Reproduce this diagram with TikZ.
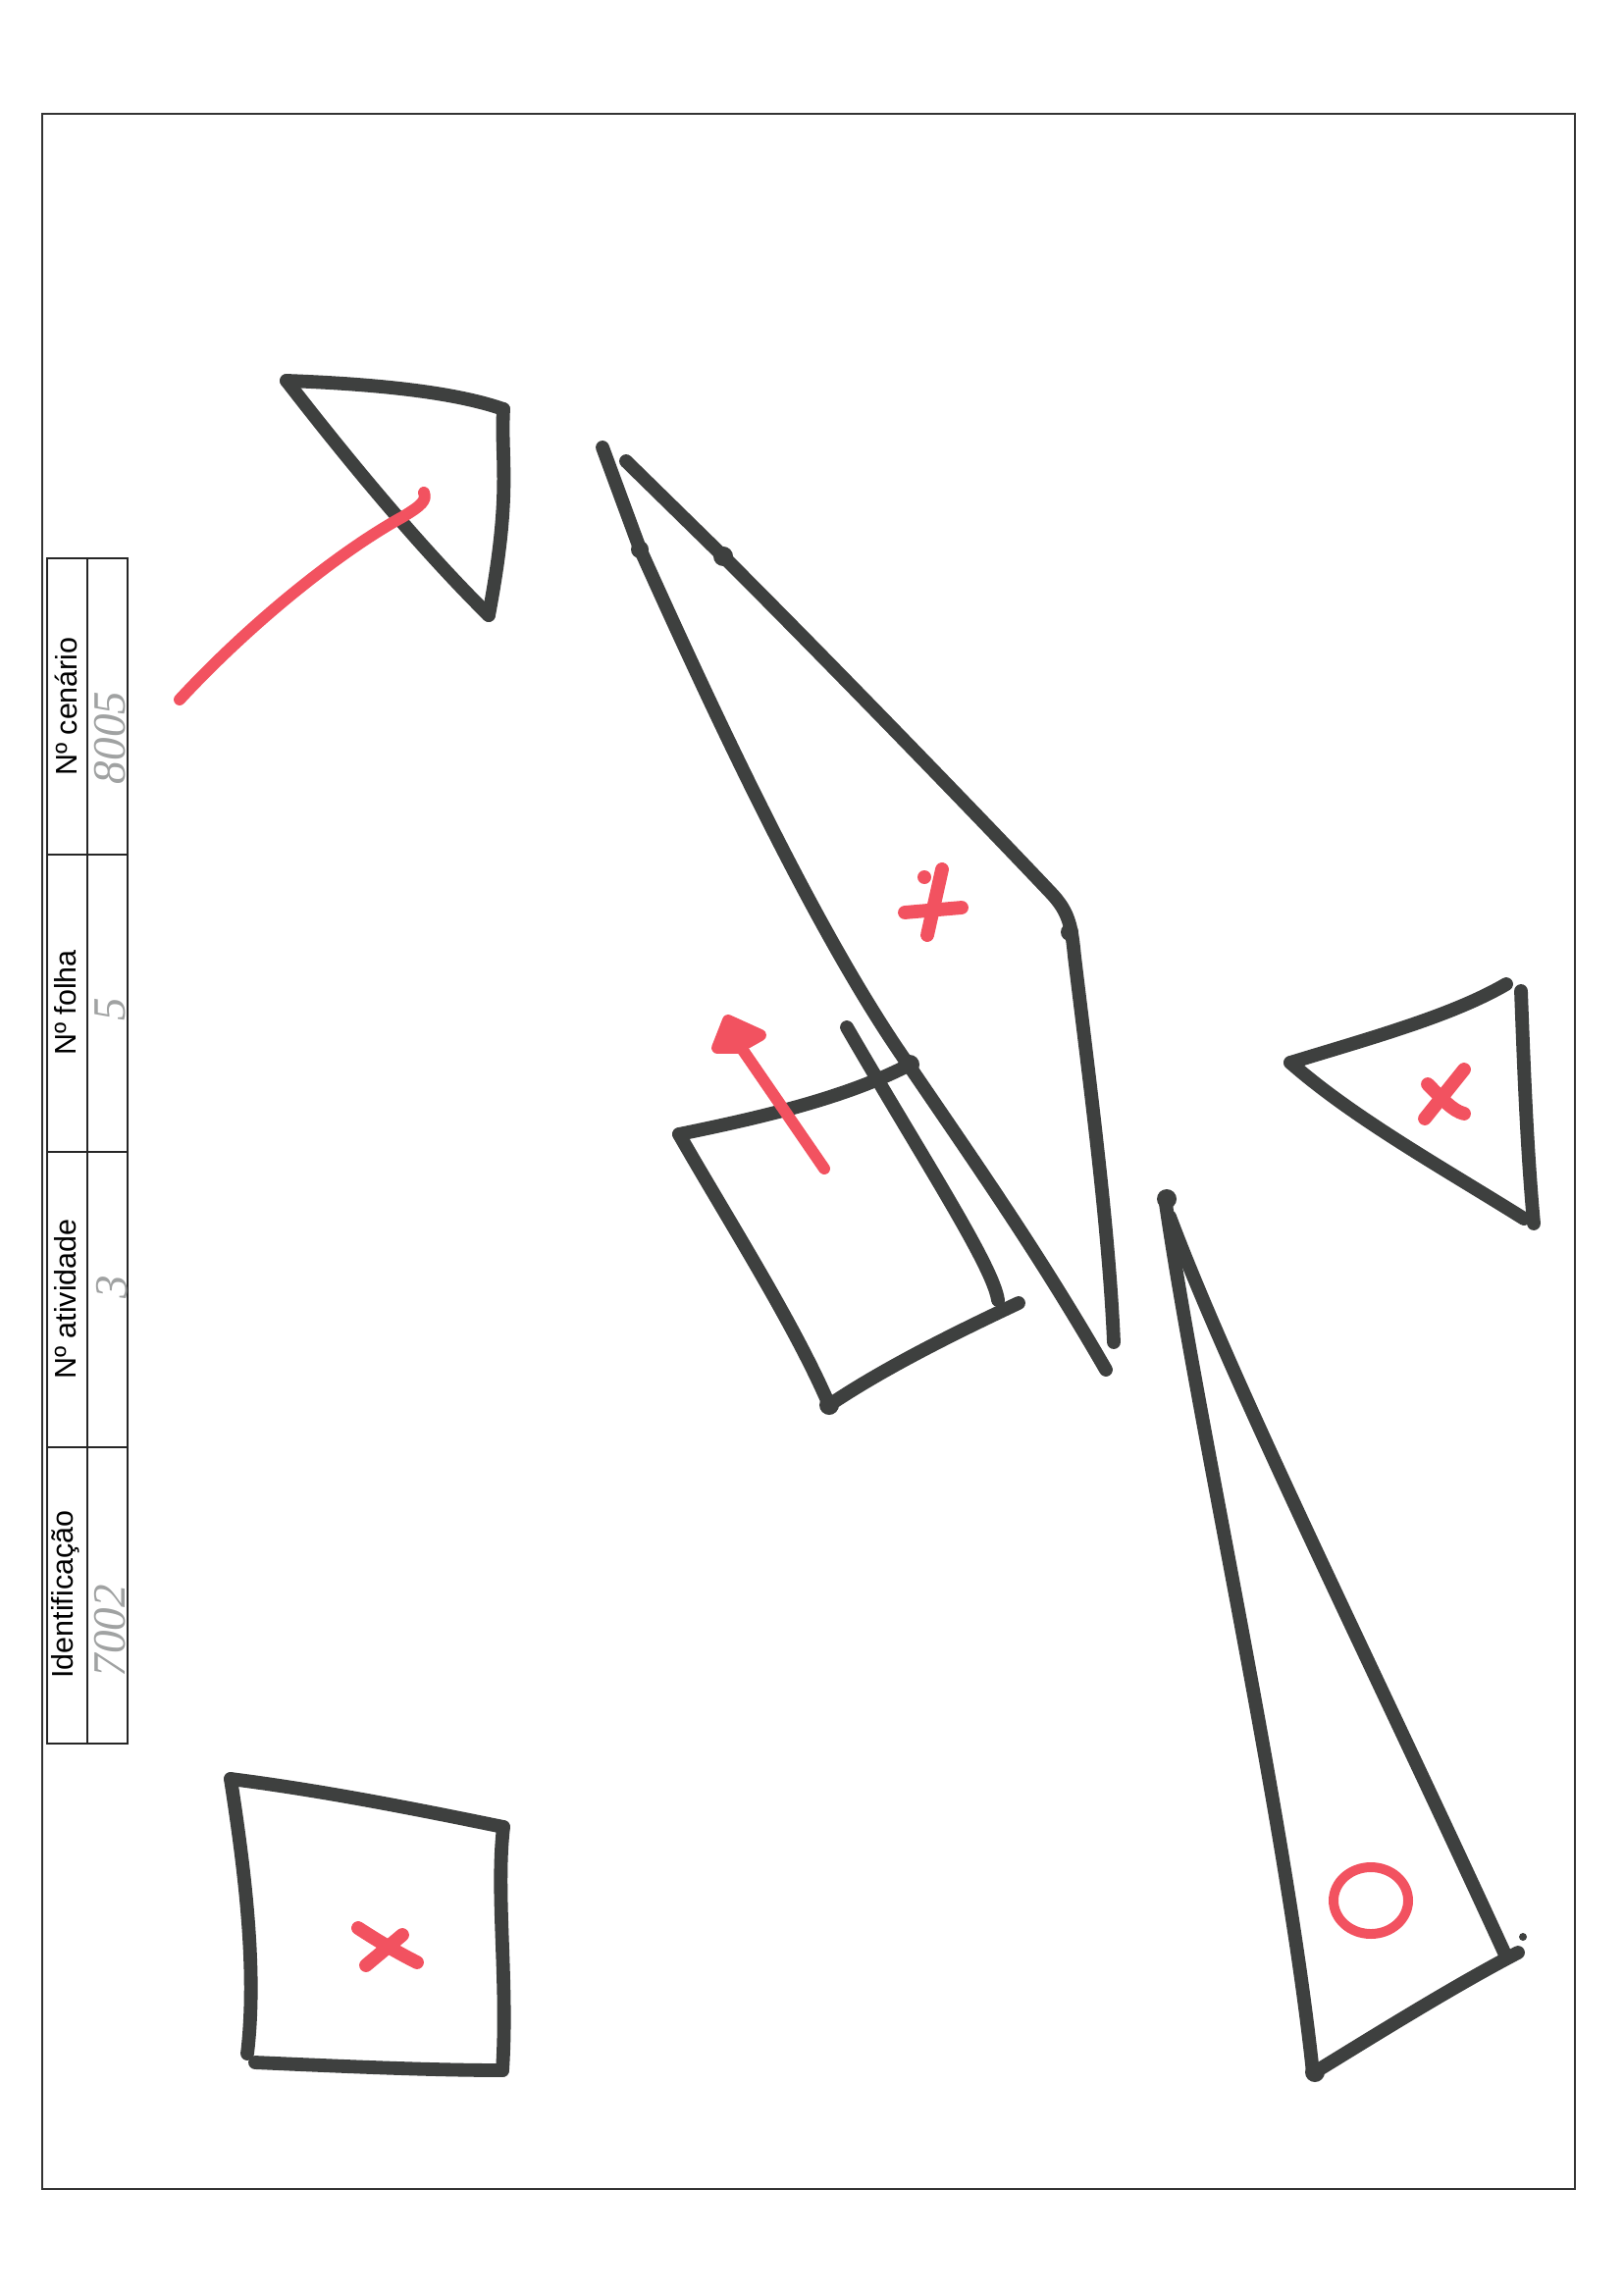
\documentclass[tikz,border=0pt]{standalone}
\usepackage{fontspec}
\setmainfont{Liberation Sans}
\newfontfamily\handfont{Liberation Serif}
\usepackage{tikz}
\usetikzlibrary{calc}
\definecolor{inkgray}{RGB}{62,64,63}
\definecolor{penred}{RGB}{242,82,96}
\definecolor{pencil}{RGB}{160,162,162}

\begin{document}
\begin{tikzpicture}[x=0.0127cm,y=-0.0127cm,
  inkline/.style={draw=inkgray,line width=5pt,line cap=round,line join=round},
  redline/.style={draw=penred,line width=4.3pt,line cap=round,line join=round},
  headtext/.style={rotate=90,inner sep=0pt,font=\fontsize{11}{13}\selectfont},
  handtext/.style={rotate=90,inner sep=0pt,text=pencil,font=\handfont\itshape\fontsize{17}{18}\selectfont},
  tabline/.style={line width=0.9pt,draw=black!85}]
 \useasboundingbox (0,0) rectangle (1654,2338);
 \fill[white] (0,0) rectangle (1654,2338);
 \draw[line width=0.8pt,black!80] (43,116) rectangle (1605,2231);
 % header table
 \draw[tabline] (48,569) rectangle (130,1777);
 \draw[tabline] (89,569) -- (89,1777);
 \foreach \yy in {871,1174,1475} \draw[tabline] (48,\yy) -- (130,\yy);
 \node[headtext] (cenario) at (67,720) {Nº cenário};
 \node[headtext] (folha) at (67,1022) {Nº folha};
 \node[headtext] (atividade) at (67,1324) {Nº atividade};
 \node[headtext] (ident) at (67,1625) {Identificação};
 \node[handtext] (cenval) at (112,752) {8005};
 \node[handtext] (folval) at (112,1029) {5};
 \node[handtext] (ativval) at (114,1312) {3};
 \node[handtext] (idval) at (112,1662) {7002};
 % top-left triangle
 \draw[inkline] (292,388) .. controls (400,392) and (470,402) .. (513,417);
 \draw[inkline] (513,417) .. controls (510,470) and (522,500) .. (498,627);
 \draw[inkline] (292,388) .. controls (340,450) and (420,550) .. (498,627);
 \draw[redline] (183,713) .. controls (260,630) and (350,560) .. (410,527) .. controls (430,515) and (435,510) .. (432,502);
 % long sliver
 \draw[inkline] (614,456) -- (652,559);
 \draw[inkline] (652,559) .. controls (720,710) and (830,950) .. (927,1087) .. controls (1000,1194) and (1060,1280) .. (1127,1396);
 \draw[inkline] (638,470) -- (737,567);
 \draw[inkline] (737,567) .. controls (850,680) and (1000,835) .. (1071,910) .. controls (1090,930) and (1092,945) .. (1095,975) .. controls (1110,1100) and (1130,1250) .. (1135,1368);
 \fill[inkgray] (652,560) circle (9);
 \fill[inkgray] (737,567) circle (10);
 \fill[inkgray] (1090,950) circle (9);
 \draw[inkline] (863,1047) .. controls (940,1180) and (1012,1290) .. (1017,1325);
 % square in the middle
 \draw[inkline] (692,1156) .. controls (770,1140) and (860,1120) .. (927,1085);
 \draw[inkline] (692,1156) .. controls (740,1240) and (810,1350) .. (845,1432);
 \draw[inkline] (845,1432) .. controls (900,1395) and (970,1360) .. (1038,1328);
 \fill[inkgray] (927,1085) circle (10);
 \fill[inkgray] (845,1432) circle (10);
 \draw[redline] (840,1191) -- (750,1060);
 \filldraw[redline,fill=penred] (731,1068) -- (742,1040) -- (775,1055) -- (752,1068) -- cycle;
 \draw[redline,line width=5pt] (922,930) -- (980,925);
 \draw[redline,line width=5pt] (960,886) -- (945,953);
 \fill[penred] (942,894) circle (7);
 % right triangle
 \draw[inkline] (1315,1083) .. controls (1400,1057) and (1480,1035) .. (1535,1003);
 \draw[inkline] (1550,1010) .. controls (1553,1090) and (1556,1170) .. (1563,1247);
 \draw[inkline] (1315,1083) .. controls (1380,1140) and (1470,1190) .. (1553,1242);
 \draw[redline,line width=5pt] (1492,1090) -- (1452,1140);
 \draw[redline,line width=5pt] (1455,1105) .. controls (1470,1120) and (1480,1132) .. (1492,1135);
 % long triangle
 \draw[inkline] (1187,1220) .. controls (1220,1450) and (1310,1850) .. (1338,2113);
 \draw[inkline] (1192,1240) .. controls (1260,1420) and (1400,1700) .. (1533,1990);
 \draw[inkline] (1338,2113) .. controls (1400,2075) and (1480,2025) .. (1547,1990);
 \fill[inkgray] (1189,1222) circle (10);
 \fill[inkgray] (1340,2112) circle (10);
 \fill[inkgray] (1552,1974) circle (4);
 \draw[redline,line width=3.6pt] (1397,1937) ellipse [x radius=38, y radius=34];
 % bottom-left square
 \draw[inkline] (235,1813) .. controls (330,1825) and (430,1845) .. (513,1862);
 \draw[inkline] (513,1862) .. controls (505,1930) and (518,2020) .. (512,2110);
 \draw[inkline] (260,2102) .. controls (350,2106) and (440,2110) .. (512,2110);
 \draw[inkline] (235,1813) .. controls (250,1910) and (262,2010) .. (252,2093);
 \draw[redline,line width=5pt] (365,1965) .. controls (385,1978) and (405,1990) .. (425,2000);
 \draw[redline,line width=5pt] (410,1972) -- (373,2003);
\end{tikzpicture}
\end{document}
